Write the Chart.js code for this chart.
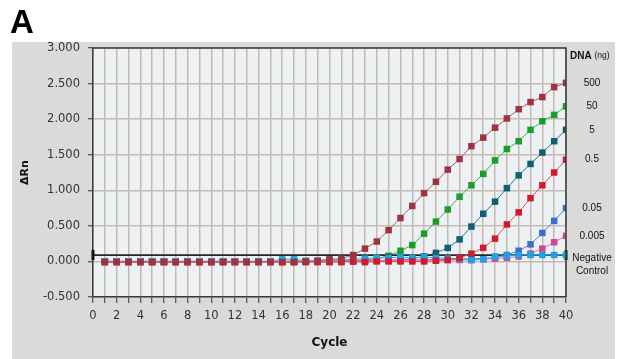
<!DOCTYPE html>
<html>
<head>
<meta charset="utf-8">
<script src="https://cdn.jsdelivr.net/npm/chart.js@4.4.1/dist/chart.umd.min.js"></script>
<style>
  html, body { margin: 0; padding: 0; background: #ffffff; }
  #wrap { width: 619px; height: 359px; }
</style>
</head>
<body>
<div id="wrap"><canvas id="qpcrChart" width="619" height="359"></canvas></div>
<script>
// amplification plot - deltaRn per cycle for a DNA dilution series

const cycles = [1, 2, 3, 4, 5, 6, 7, 8, 9, 10, 11, 12, 13, 14, 15, 16, 17, 18, 19, 20,
                21, 22, 23, 24, 25, 26, 27, 28, 29, 30, 31, 32, 33, 34, 35, 36, 37, 38, 39, 40];

const dna500 = [-0.01, -0.01, -0.01, -0.01, -0.01, -0.01, -0.01, -0.01, -0.01, -0.01,
                -0.01, -0.01, -0.01, -0.01, -0.01, -0.01, -0.01, 0.00, 0.01, 0.03,
                0.04, 0.09, 0.18, 0.28, 0.44, 0.61, 0.78, 0.96, 1.12, 1.29,
                1.44, 1.62, 1.74, 1.88, 2.01, 2.14, 2.24, 2.31, 2.45, 2.51];
const dna50 = [0.00, 0.00, 0.00, 0.00, 0.00, 0.00, 0.00, 0.00, 0.00, 0.00,
               0.00, 0.00, 0.00, 0.00, 0.00, 0.00, 0.00, 0.00, 0.00, 0.00,
               0.00, 0.01, 0.02, 0.04, 0.08, 0.15, 0.23, 0.39, 0.56, 0.73,
               0.91, 1.07, 1.23, 1.42, 1.58, 1.69, 1.85, 1.97, 2.06, 2.18];
const dna5 = [0.00, 0.00, 0.00, 0.00, 0.00, 0.00, 0.00, 0.00, 0.00, 0.00,
              0.00, 0.00, 0.00, 0.00, 0.00, 0.00, 0.00, 0.00, 0.00, 0.00,
              0.00, 0.00, 0.01, 0.01, 0.01, 0.02, 0.04, 0.07, 0.12, 0.19,
              0.31, 0.49, 0.67, 0.84, 1.03, 1.21, 1.37, 1.53, 1.69, 1.85];
const dna05 = [-0.01, -0.01, -0.01, -0.01, -0.01, -0.01, -0.01, -0.01, -0.01, -0.01,
               -0.01, -0.01, -0.01, -0.01, -0.01, -0.01, -0.01, -0.01, -0.01, -0.01,
               -0.01, 0.00, -0.01, 0.00, 0.00, 0.00, 0.00, 0.00, 0.01, 0.02,
               0.05, 0.11, 0.19, 0.32, 0.52, 0.69, 0.89, 1.07, 1.25, 1.43];
const dna005 = [0.00, 0.00, 0.00, 0.00, 0.00, 0.00, 0.00, 0.00, 0.00, 0.00,
                0.00, 0.00, 0.00, 0.00, 0.00, 0.00, 0.00, 0.00, 0.00, 0.01,
                0.01, 0.01, 0.01, 0.01, 0.02, 0.02, 0.02, 0.02, 0.03, 0.03,
                0.03, 0.04, 0.04, 0.05, 0.09, 0.15, 0.24, 0.40, 0.57, 0.75];
const dna0005 = [0.00, 0.00, 0.00, 0.00, 0.00, 0.00, 0.00, 0.00, 0.00, 0.00,
                 0.00, 0.00, 0.00, 0.00, 0.00, 0.00, 0.00, 0.00, 0.00, 0.00,
                 0.00, 0.01, 0.01, 0.01, 0.01, 0.01, 0.02, 0.02, 0.02, 0.02,
                 0.02, 0.02, 0.03, 0.04, 0.05, 0.07, 0.11, 0.18, 0.27, 0.36];
const negControl = [0.00, 0.00, 0.00, 0.00, 0.00, 0.00, 0.00, 0.00, 0.00, 0.00,
                    0.00, 0.00, 0.00, 0.00, 0.00, 0.03, 0.03, 0.01, 0.01, 0.02,
                    0.02, 0.03, 0.04, 0.05, 0.05, 0.06, 0.05, 0.06, 0.05, 0.04,
                    0.04, 0.02, 0.03, 0.07, 0.08, 0.09, 0.09, 0.09, 0.09, 0.09];

const thresholdValue = 0.09;
const thresholdCycles = [0, 40];

const seriesNames = ['500', '50', '5', '0.5', '0.05', '0.005', 'Negative Control'];
const seriesValues = [dna500, dna50, dna5, dna05, dna005, dna0005, negControl];
const sideLabels = [['500'], ['50'], ['5'], ['0.5'], ['0.05'], ['0.005'], ['Negative', 'Control']];
const markerColors = ['#9c3541', '#1f9a2e', '#0f5f73', '#d01a30', '#3c6fc4', '#cc4a98', '#1ea2e4'];
const lineColors = ['#b0606a', '#3bb54a', '#2e7585', '#e0505a', '#5585d5', '#d877b0', '#3ab0ea'];
const drawOrder = [0, 7, 6, 1, 5, 4, 2];

const TICK_FONT = { family: 'DejaVu Sans', size: 11.5 };

const datasets = seriesValues.map((vals, i) => ({
  label: seriesNames[i],
  data: cycles.map((c, k) => ({ x: c, y: vals[k] })),
  borderColor: lineColors[i],
  borderWidth: 1,
  backgroundColor: markerColors[i],
  pointStyle: 'rect',
  pointRadius: 4.6,
  pointBorderWidth: 0,
  pointBackgroundColor: markerColors[i],
  tension: 0,
  order: drawOrder[i]
}));

datasets.push({
  label: 'Threshold',
  data: thresholdCycles.map(c => ({ x: c, y: thresholdValue })),
  borderColor: '#262626',
  borderWidth: 1.8,
  pointStyle: 'line',
  rotation: 90,
  pointRadius: 5,
  pointBorderWidth: 3,
  pointBorderColor: '#111',
  clip: false,
  order: 3
});

// panel, plot background, letter, side labels, frame
const decorPlugin = {
  id: 'decor',
  beforeDraw(chart) {
    const ctx = chart.ctx;
    const a = chart.chartArea;
    ctx.save();
    ctx.fillStyle = '#dadad8';
    ctx.fillRect(12, 42, 603, 317);
    ctx.fillStyle = '#eef1f3';
    ctx.fillRect(a.left, a.top, a.right - a.left, a.bottom - a.top);
    ctx.fillStyle = '#000';
    ctx.font = 'bold 33px "Liberation Sans"';
    ctx.textBaseline = 'alphabetic';
    ctx.fillText('A', 10, 33);
    ctx.restore();
  },
  afterDraw(chart) {
    const ctx = chart.ctx;
    const a = chart.chartArea;
    const y = chart.scales.y;
    ctx.save();
    ctx.strokeStyle = '#3a3a3a';
    ctx.lineWidth = 1.5;
    ctx.beginPath();
    ctx.moveTo(a.left, a.top);
    ctx.lineTo(a.right, a.top);
    ctx.lineTo(a.right, a.bottom);
    ctx.stroke();

    ctx.fillStyle = '#111';
    ctx.textBaseline = 'middle';
    ctx.textAlign = 'left';
    ctx.font = 'bold 10px "Liberation Sans"';
    ctx.fillText('DNA', a.right + 4, a.top + 8);
    const w = ctx.measureText('DNA ').width;
    ctx.font = '8.5px "Liberation Sans"';
    ctx.fillText('(ng)', a.right + 4 + w, a.top + 8);

    ctx.textAlign = 'center';
    ctx.font = '10px "Liberation Sans"';
    seriesValues.forEach((vals, i) => {
      const lines = sideLabels[i];
      const py = y.getPixelForValue(vals[vals.length - 1]);
      const base = lines.length > 1 ? py + 3 : py;
      lines.forEach((t, j) => ctx.fillText(t, a.right + 26, base + j * 13));
    });
    ctx.restore();
  }
};

new Chart(document.getElementById('qpcrChart'), {
  type: 'line',
  data: { datasets },
  options: {
    responsive: false,
    devicePixelRatio: 1,
    animation: false,
    layout: { padding: { left: 12, right: 53, top: 48, bottom: 0 } },
    plugins: { legend: { display: false }, tooltip: { enabled: false } },
    scales: {
      x: {
        type: 'linear',
        min: 0,
        max: 40,
        afterFit: s => { s.height = 62; },
        ticks: {
          stepSize: 1,
          autoSkip: false,
          maxRotation: 0,
          padding: 6,
          color: '#333',
          font: TICK_FONT,
          callback: v => (v % 2 === 0 ? v : '')
        },
        grid: { color: '#c3bbb1', lineWidth: 1.5, tickColor: '#333', tickLength: 6, tickWidth: 1 },
        border: { color: '#3a3a3a', width: 1.5 },
        title: {
          display: true,
          text: 'Cycle',
          color: '#111',
          font: { family: 'DejaVu Sans', size: 12, weight: 'bold' },
          padding: { top: 0, bottom: 9 }
        }
      },
      y: {
        min: -0.5,
        max: 3,
        afterFit: s => { s.width = 81; },
        ticks: {
          stepSize: 0.5,
          padding: 8,
          color: '#333',
          font: TICK_FONT,
          callback: v => v.toFixed(3)
        },
        grid: { color: '#c3bbb1', lineWidth: 1.5, tickColor: '#333', tickLength: 5, tickWidth: 1 },
        border: { color: '#3a3a3a', width: 1.5 },
        title: {
          display: true,
          text: 'ΔRn',
          color: '#111',
          font: { family: 'DejaVu Sans', size: 11, weight: 'bold' },
          padding: { top: 7, bottom: 0 }
        }
      }
    }
  },
  plugins: [decorPlugin]
});
</script>
</body>
</html>
